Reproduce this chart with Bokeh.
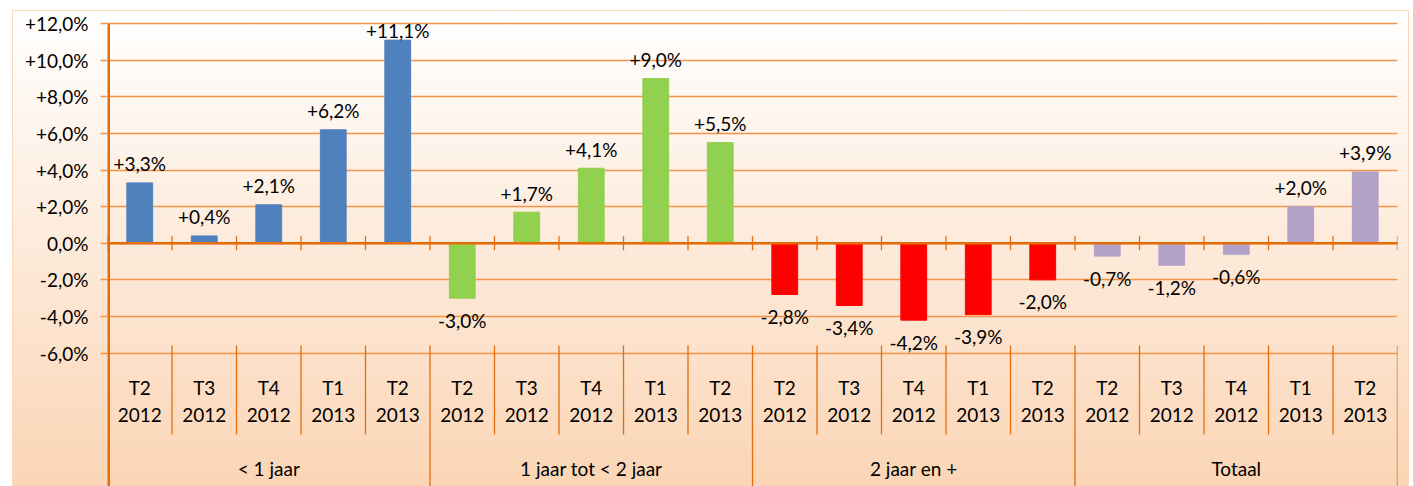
import numpy as np
from bokeh.plotting import figure
from bokeh.models import FactorRange, Range1d, FixedTicker, Span, ColumnDataSource
from bokeh.core.properties import value
from bokeh.embed import file_html
from bokeh.resources import INLINE

# ---------------- data ----------------
groups = ["< 1 jaar", "1 jaar tot < 2 jaar", "2 jaar en +", "Totaal"]
quarters = ["T2", "T3", "T4", "T1", "T2"]
years = ["2012", "2012", "2012", "2013", "2013"]
vals_lt1 = [3.3, 0.4, 2.1, 6.2, 11.1]
vals_1to2 = [-3.0, 1.7, 4.1, 9.0, 5.5]
vals_2plus = [-2.8, -3.4, -4.2, -3.9, -2.0]
vals_total = [-0.7, -1.2, -0.6, 2.0, 3.9]
group_colors = ["#4F81BD", "#92D050", "#FF0000", "#B3A2C7"]
y_ticks = [-6, -4, -2, 0, 2, 4, 6, 8, 10, 12]
y_tick_labels = ["-6,0%", "-4,0%", "-2,0%", "0,0%", "+2,0%", "+4,0%",
                 "+6,0%", "+8,0%", "+10,0%", "+12,0%"]

# ---------------- build ----------------
series = [vals_lt1, vals_1to2, vals_2plus, vals_total]
periods = [f"{q} {y}" for q, y in zip(quarters, years)]
factors = [(g, per) for g in groups for per in periods]
values = [v for s in series for v in s]
colors = [c for c in group_colors for _ in periods]
labels = [("+" if v > 0 else "") + f"{v:.1f}".replace(".", ",") + "%" for v in values]
vals = np.array(values)
lab_y = np.where(vals >= 0, np.minimum(vals, 10.6), vals)
lab_off = np.where(vals >= 0, -19, 22)

src = ColumnDataSource(dict(x=factors, top=values, color=colors, label=labels,
                            ly=lab_y, loff=lab_off,
                            q=[q for _ in groups for q in quarters],
                            yr=[y for _ in groups for y in years]))

FONT = value("Lato")
ORANGE_DARK = "#E46C0A"
ORANGE_GRID = "#F39449"

p = figure(x_range=FactorRange(*factors, group_padding=0, factor_padding=0, range_padding=0),
           y_range=Range1d(-13.29, 12.5),
           width=1395, height=475,
           min_border_left=94, min_border_right=11, min_border_top=3, min_border_bottom=0,
           x_axis_location=None,
           output_backend="svg", toolbar_location=None,
           background_fill_color=None, border_fill_color=None, outline_line_color=None)
p.styles = {"background": "linear-gradient(to bottom, #FFFFFF, #FBD5B5)",
            "margin-left": "13px", "margin-top": "11px",
            "outline": "1px solid #FCD9BD"}

# y axis
ax = p.yaxis[0]
ax.ticker = FixedTicker(ticks=y_ticks)
ax.major_label_overrides = {float(t): l for t, l in zip(y_ticks, y_tick_labels)}
ax.axis_line_color = None
ax.major_tick_in = 0
ax.major_tick_out = 7
ax.major_tick_line_color = ORANGE_GRID
ax.major_tick_line_width = 1.5
ax.minor_tick_line_color = None
ax.major_label_standoff = 12
ax.major_label_text_font = "Lato"
ax.major_label_text_font_size = "19px"
ax.major_label_text_color = "#000000"

p.xgrid.visible = False
p.ygrid.ticker = FixedTicker(ticks=y_ticks)
p.ygrid.grid_line_color = ORANGE_GRID
p.ygrid.grid_line_width = 1.5

# bars
p.vbar(x="x", top="top", bottom=0, width=0.4, color="color", source=src)

# zero axis line
p.add_layout(Span(location=0, dimension="width", line_color=ORANGE_DARK, line_width=2.5))

# category boundaries
n = len(factors)
bounds = np.arange(n + 1)
per_group = len(periods)
is_group = bounds % per_group == 0
# tick marks on zero line
p.segment(x0=bounds, x1=bounds, y0=-0.38, y1=0.38, line_color=ORANGE_DARK, line_width=1.3)
# inner separators in label area
inner = bounds[~is_group]
p.segment(x0=inner, x1=inner, y0=-5.58, y1=-10.45, line_color=ORANGE_DARK, line_width=1.3)
# group separators
gb = bounds[is_group][1:]
p.segment(x0=gb, x1=gb, y0=-5.58, y1=-13.6, line_color=ORANGE_DARK, line_width=1.3)
# left axis line (full height)
p.segment(x0=[0], x1=[0], y0=[12], y1=[-13.6], line_color=ORANGE_DARK, line_width=5)

# data labels
p.text(x="x", y="ly", text="label", y_offset="loff", source=src,
       text_align="center", text_baseline="middle", text_font=FONT,
       text_font_size="19px", text_color="#000000")

# category labels
p.text(x="x", y=-7.88, text="q", source=src, text_align="center", text_baseline="middle",
       text_font=FONT, text_font_size="19px", text_color="#000000")
p.text(x="x", y=-9.36, text="yr", source=src, text_align="center", text_baseline="middle",
       text_font=FONT, text_font_size="19px", text_color="#000000")
gsrc = ColumnDataSource(dict(x=groups, label=groups))
p.text(x="x", y=-12.31, text="label", source=gsrc, text_align="center", text_baseline="middle",
       text_font=FONT, text_font_size="19px", text_color="#000000")

open("out.html", "w").write(file_html(p, INLINE))
